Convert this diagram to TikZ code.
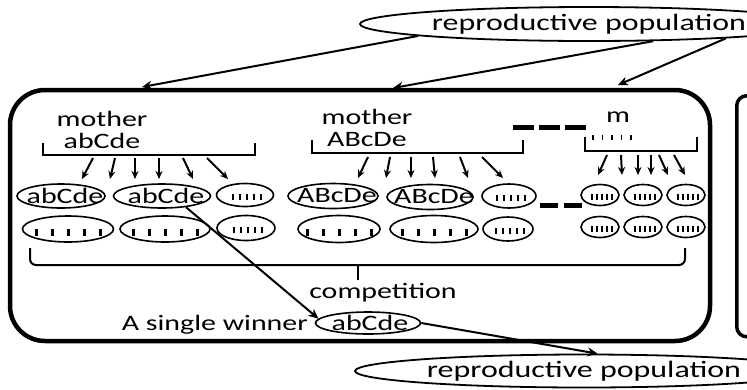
\documentclass[tikz,border=0pt]{standalone}
\usepackage{fontspec}
\setmainfont{Carlito}[FakeStretch=1.36]
\usepackage{tikz}
\usetikzlibrary{shapes.geometric, arrows.meta, calc}

% short bars standing for unnamed genomes
\newcommand{\fatbars}[2]{%
  \foreach \k in {-2,...,2}
    \fill ([shift={(\k*#2-1.5,0)}]#1.center) rectangle ++(3,7);}
\newcommand{\thinbars}[2]{%
  \foreach \k in {-2,...,2}
    \draw[line width=1.2pt] ([shift={(\k*#2+2,-1)}]#1.center) -- ++(0,6);}

\begin{document}
\begin{tikzpicture}[
    x=1pt, y=-1pt,
    font=\fontsize{22}{22}\selectfont,
    pop/.style={ellipse, draw, line width=1.8pt, inner sep=0pt, minimum width=458pt, minimum height=34pt, font=\fontsize{23.5}{24}\selectfont},
    gene/.style={ellipse, draw, line width=1.6pt, inner sep=0pt},
    arrow/.style={-{Stealth[length=10pt, width=9pt]}, line width=2pt},
    kid/.style={-{Stealth[length=8pt, width=7pt]}, line width=2pt},
    bracket/.style={line width=1.8pt},
    txt/.style={inner sep=0pt, anchor=base}
]
\useasboundingbox (0,0) rectangle (747,389);
\clip (0,0) rectangle (747,389);

% islands
\node[draw, line width=4.5pt, rounded corners=35pt, minimum width=700pt, minimum height=251pt, inner sep=0pt, outer sep=0pt] (island) at (360,215.5) {};
\node[draw, line width=3.5pt, rounded corners=10pt, minimum width=100pt, minimum height=241pt, inner sep=0pt, anchor=north west] (next) at (735,94) {};

% populations
\node[pop] (top) at (589,24) {reproductive population};
\node[pop, minimum height=33pt] (bot) at (584,371) {reproductive population};

% mothers
\node[align=center] (m1) at (102,130) {mother\\abCde};
\node[align=center] (m2) at (367,128) {mother\\ABcDe};
\node[txt] (m3) at (618,122) {m};

\draw[bracket] (43,143) |- (255,155) -- (255,143);
\draw[bracket] (312,140) |- (523,153) -- (523,140);
\draw[bracket] (585,137) |- (697,151) -- (697,137);
\foreach \k in {0,...,4}
  \draw[line width=1.2pt] (593+\k*9.5,135) -- ++(0,5);

\draw[line width=5pt, dash pattern=on 21pt off 5pt] (513,127) -- (586,127);
\draw[line width=5pt, dash pattern=on 18pt off 6pt] (540,205) -- (582,205);

% offspring
\node[gene, minimum width=88pt, minimum height=24pt, label={[xshift=4pt]center:abCde}] (a1) at (61,196) {};
\node[gene, minimum width=97pt, minimum height=24pt, label={[xshift=4pt]center:abCde}] (a2) at (162,196) {};
\node[gene, minimum width=57pt, minimum height=23pt] (a3) at (245,195) {};
\node[gene, minimum width=91pt, minimum height=26pt] (b1) at (68,229) {};
\node[gene, minimum width=90pt, minimum height=26pt] (b2) at (165,229) {};
\node[gene, minimum width=58pt, minimum height=25pt] (b3) at (246,228) {};

\node[gene, minimum width=90pt, minimum height=25pt, label={[xshift=4pt]center:ABcDe}] (c1) at (333,196) {};
\node[gene, minimum width=86pt, minimum height=25pt, label={[xshift=4pt]center:ABcDe}] (c2) at (430,197) {};
\node[gene, minimum width=54pt, minimum height=24pt] (c3) at (509,196) {};
\node[gene, minimum width=82pt, minimum height=27pt] (d1) at (339,229) {};
\node[gene, minimum width=88pt, minimum height=27pt] (d2) at (434,229) {};
\node[gene, minimum width=50pt, minimum height=24pt] (d3) at (508,229) {};

\foreach \n/\x in {1/600, 2/643, 3/686} {
  \node[gene, minimum width=38pt, minimum height=21pt] (e\n) at (\x,195) {};
  \node[gene, minimum width=38pt, minimum height=21pt] (f\n) at (\x,227) {};
  \thinbars{e\n}{5}
  \thinbars{f\n}{5}
}

\fatbars{b1}{16} \fatbars{b2}{16} \fatbars{d1}{16} \fatbars{d2}{16}
\thinbars{a3}{7} \thinbars{b3}{7} \thinbars{c3}{7} \thinbars{d3}{7}

\foreach \s/\e in {93/82, 115/110, 135/135, 159/159, 183/193, 207/228}
  \draw[kid] (\s,158) -- (\e,179);
\foreach \s/\e in {368/358, 390/386, 411/411, 433/435, 460/468, 482/503}
  \draw[kid] (\s,157) -- (\e,178);
\foreach \s/\e in {607/598, 621/622, 638/638, 651/651, 659/668, 674/685}
  \draw[kid] (\s,155) -- (\e,175);

% competition
\draw[line width=2pt, rounded corners=6pt] (30,248) |- (685,265) -- (685,248);
\draw[line width=2pt] (358,265) -- (358,280);
\node[txt] (comp) at (383,298) {competition};
\node[txt, anchor=base east] (single) at (308,330) {A single winner};
\node[gene, minimum width=105pt, minimum height=22pt, label={[xshift=2pt]center:abCde}] (win) at (368,323) {};

% migration
\coordinate (in1) at (142,87);
\coordinate (in2) at (393,88);
\coordinate (in3) at (618,85);
\draw[arrow] (top.184) -- (in1);
\draw[arrow] (top.345) -- (in2);
\draw[arrow] (top.354) -- (in3);
\draw[arrow] (a2.-25) -- (win.175);
\draw[arrow] (win.east) -- (bot.52);

\end{tikzpicture}
\end{document}
